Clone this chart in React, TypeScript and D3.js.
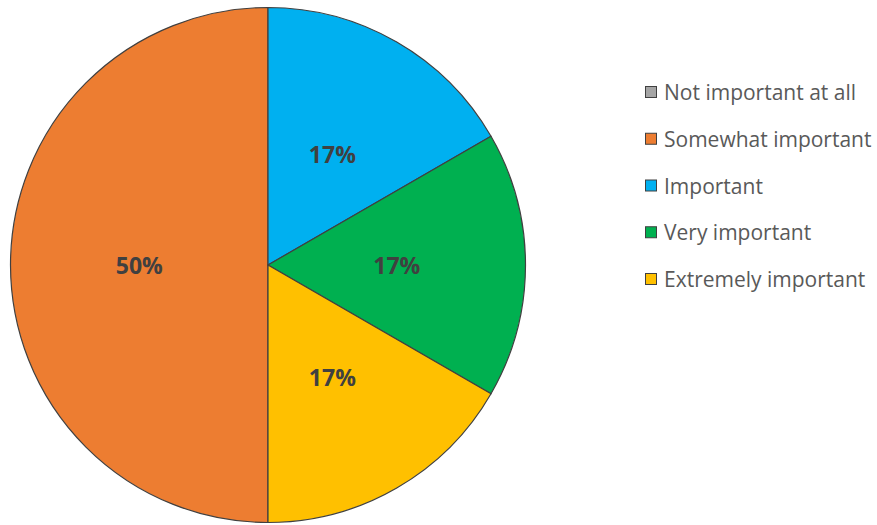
import React from "react";
import * as d3 from "d3";

const categories = [
  "Not important at all",
  "Somewhat important",
  "Important",
  "Very important",
  "Extremely important",
];
const counts = [0, 3, 1, 1, 1];
const colors = ["#A5A5A5", "#ED7D31", "#00B0F0", "#00B050", "#FFC000"];

const W = 877;
const H = 525;
const cx = 268;
const cy = 265;
const R = 257.5;

export default function App() {
  const total = d3.sum(counts);
  const pie = d3
    .pie<number>()
    .sort(null)
    .value((d) => d)
    .startAngle(Math.PI)
    .endAngle(3 * Math.PI);
  const arcs = pie(counts);
  const arc = d3.arc<d3.PieArcDatum<number>>().innerRadius(0).outerRadius(R);
  const labelArc = d3
    .arc<d3.PieArcDatum<number>>()
    .innerRadius(R * 0.5)
    .outerRadius(R * 0.5);
  const legendY = d3.scalePoint<number>().domain(d3.range(categories.length)).range([92, 279]);

  return (
    <svg
      width={W}
      height={H}
      style={{ position: "absolute", left: 0, top: 0, background: "#fff" }}
    >
      <g transform={`translate(${cx},${cy})`}>
        {arcs.map((a, i) =>
          a.value > 0 ? (
            <path
              key={i}
              d={arc(a) || ""}
              fill={colors[i]}
              stroke="#404040"
              strokeWidth={1.2}
              strokeLinejoin="round"
            />
          ) : null
        )}
        {arcs.map((a, i) => {
          if (a.value <= 0) return null;
          const [x, y] = labelArc.centroid(a);
          return (
            <text
              key={"l" + i}
              x={x}
              y={y}
              textAnchor="middle"
              dominantBaseline="central"
              fontFamily="'Open Sans', sans-serif"
              fontWeight="bold"
              fontSize={23}
              fill="#404040"
            >
              {Math.round((a.value / total) * 100) + "%"}
            </text>
          );
        })}
      </g>
      <g>
        {categories.map((c, i) => (
          <g key={c} transform={`translate(645,${legendY(i)})`}>
            <rect
              x={0.5}
              y={-5.5}
              width={11}
              height={11}
              fill={colors[i]}
              stroke="#404040"
              strokeWidth={1}
            />
            <text
              x={19}
              y={0}
              dominantBaseline="central"
              fontFamily="'Open Sans', sans-serif"
              fontSize={21}
              fill="#595959"
            >
              {c}
            </text>
          </g>
        ))}
      </g>
    </svg>
  );
}
